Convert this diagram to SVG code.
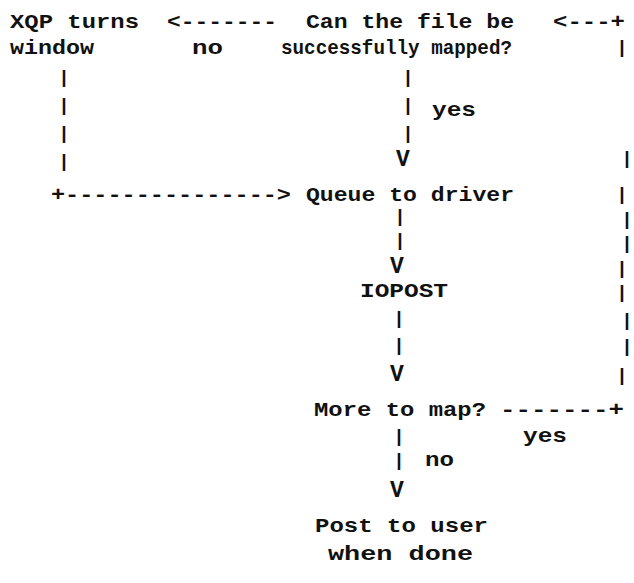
<svg xmlns="http://www.w3.org/2000/svg" width="634" height="583" viewBox="0 0 634 583">
  <style>
    .t { font-family: "Liberation Mono", "DejaVu Sans Mono", monospace; font-weight: bold; font-size: 21px; fill: #111; }
    .m { text-anchor: middle; }
    .bar { font-size: 19px; }
    .v { font-size: 23px; }
  </style>
  <rect width="634" height="583" fill="#fff"/>

  <!-- flow boxes (plain text, typewriter style) -->
  <g id="node-xqp-turns-window">
    <text class="t" x="10" y="28" textLength="129" lengthAdjust="spacingAndGlyphs">XQP turns</text>
    <text class="t" x="10" y="54" textLength="84" lengthAdjust="spacingAndGlyphs">window</text>
  </g>
  <g id="node-can-map">
    <text class="t" x="306" y="28" textLength="208" lengthAdjust="spacingAndGlyphs">Can the file be</text>
    <text class="t" x="281" y="54" textLength="231" lengthAdjust="spacingAndGlyphs">successfully mapped?</text>
  </g>
  <g id="node-queue">
    <text class="t" x="306" y="201" textLength="208" lengthAdjust="spacingAndGlyphs">Queue to driver</text>
  </g>
  <g id="node-iopost">
    <text class="t" x="360" y="297" textLength="88" lengthAdjust="spacingAndGlyphs">IOPOST</text>
  </g>
  <g id="node-more">
    <text class="t" x="314" y="416" textLength="172" lengthAdjust="spacingAndGlyphs">More to map?</text>
  </g>
  <g id="node-post">
    <text class="t" x="315" y="532" textLength="173" lengthAdjust="spacingAndGlyphs">Post to user</text>
    <text class="t" x="328" y="560" textLength="145" lengthAdjust="spacingAndGlyphs">when done</text>
  </g>

  <!-- ASCII connectors and their labels -->
  <g id="connectors">
    <!-- mapping failed: back to XQP -->
    <text class="t" x="167" y="28" textLength="110" lengthAdjust="spacingAndGlyphs">&lt;-------</text>
    <text class="t" x="192" y="54" textLength="31" lengthAdjust="spacingAndGlyphs">no</text>
    <!-- window turn, down and over to the queue -->
    <text class="t m bar" x="64" y="83">|</text>
    <text class="t m bar" x="64" y="111">|</text>
    <text class="t m bar" x="64" y="139">|</text>
    <text class="t m bar" x="64" y="167">|</text>
    <text class="t" x="51" y="201" textLength="240" lengthAdjust="spacingAndGlyphs">+---------------&gt;</text>
    <!-- mapped: down to the queue -->
    <text class="t m bar" x="408" y="83">|</text>
    <text class="t m bar" x="408" y="111">|</text>
    <text class="t" x="432" y="116" textLength="44" lengthAdjust="spacingAndGlyphs">yes</text>
    <text class="t m bar" x="408" y="139">|</text>
    <text class="t m v" x="403" y="166">V</text>
    <!-- queue to IOPOST -->
    <text class="t m bar" x="400" y="222">|</text>
    <text class="t m bar" x="400" y="246">|</text>
    <text class="t m v" x="397" y="273">V</text>
    <!-- IOPOST to more-to-map -->
    <text class="t m bar" x="399" y="324">|</text>
    <text class="t m bar" x="399" y="351">|</text>
    <text class="t m v" x="397" y="381">V</text>
    <!-- nothing left: post to user -->
    <text class="t m bar" x="399" y="442">|</text>
    <text class="t m bar" x="399" y="466">|</text>
    <text class="t" x="425" y="466" textLength="29" lengthAdjust="spacingAndGlyphs">no</text>
    <text class="t m v" x="397" y="497">V</text>
    <!-- more to map: loop back up the right side -->
    <text class="t" x="500" y="416" textLength="124" lengthAdjust="spacingAndGlyphs">-------+</text>
    <text class="t" x="523" y="442" textLength="44" lengthAdjust="spacingAndGlyphs">yes</text>
    <text class="t m bar" x="622" y="381">|</text>
    <text class="t m bar" x="627" y="352">|</text>
    <text class="t m bar" x="627" y="326">|</text>
    <text class="t m bar" x="622" y="298">|</text>
    <text class="t m bar" x="622" y="274">|</text>
    <text class="t m bar" x="627" y="249">|</text>
    <text class="t m bar" x="627" y="225">|</text>
    <text class="t m bar" x="622" y="200">|</text>
    <text class="t m bar" x="627" y="164">|</text>
    <text class="t m bar" x="622" y="53">|</text>
    <text class="t" x="553" y="28" textLength="72" lengthAdjust="spacingAndGlyphs">&lt;---+</text>
  </g>
</svg>
